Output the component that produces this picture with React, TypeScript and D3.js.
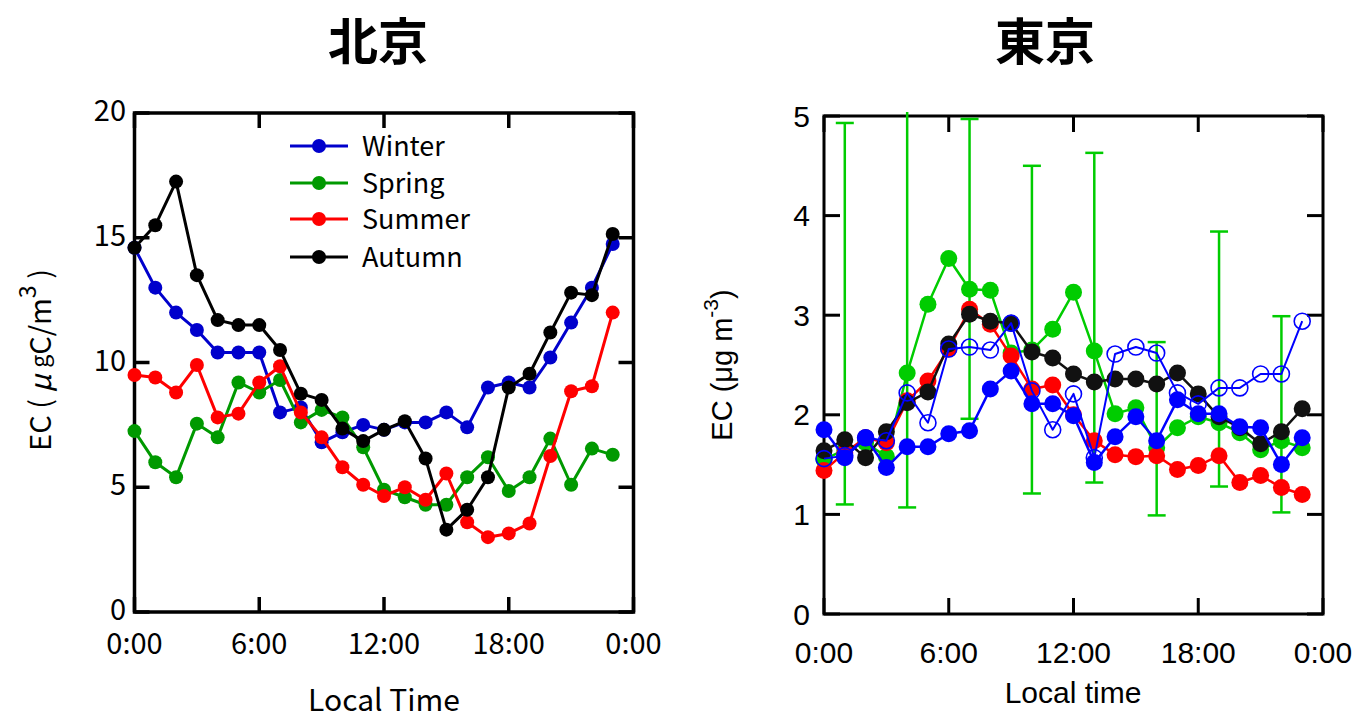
import * as d3 from "d3";

// hours of day (categories)
const hours = [0, 1, 2, 3, 4, 5, 6, 7, 8, 9, 10, 11, 12, 13, 14, 15, 16, 17, 18, 19, 20, 21, 22, 23];
const timeTicks = [0, 6, 12, 18, 24];
const timeLabels = ["0:00", "6:00", "12:00", "18:00", "0:00"];

// 北京 (left)
const bjWinter = [14.6, 13.0, 12.0, 11.3, 10.4, 10.4, 10.4, 8.0, 8.2, 6.8, 7.2, 7.5, 7.3, 7.6, 7.6, 8.0, 7.4, 9.0, 9.2, 9.0, 10.2, 11.6, 13.0, 14.75];
const bjSpring = [7.25, 6.0, 5.4, 7.55, 7.0, 9.2, 8.8, 9.3, 7.6, 8.1, 7.8, 6.6, 4.9, 4.6, 4.3, 4.3, 5.4, 6.2, 4.85, 5.4, 6.95, 5.1, 6.55, 6.3];
const bjSummer = [9.5, 9.4, 8.8, 9.9, 7.8, 7.95, 9.2, 9.85, 8.0, 7.0, 5.8, 5.1, 4.65, 5.0, 4.5, 5.55, 3.6, 3.0, 3.15, 3.55, 6.25, 8.85, 9.05, 12.0];
const bjAutumn = [14.6, 15.5, 17.25, 13.5, 11.7, 11.5, 11.5, 10.5, 8.75, 8.5, 7.35, 6.85, 7.3, 7.65, 6.15, 3.3, 4.1, 5.4, 9.0, 9.55, 11.2, 12.8, 12.7, 15.15];
const bjTicks = [0, 5, 10, 15, 20];
const seasonNames = ["Winter", "Spring", "Summer", "Autumn"];
const seasonColors = ["#0000cc", "#009900", "#ff0000", "#000000"];

// 東京 (right)
const tkGreen = [1.55, 1.65, 1.72, 1.58, 2.42, 3.11, 3.57, 3.26, 3.25, 2.62, 2.65, 2.86, 3.23, 2.64, 2.01, 2.07, 1.67, 1.87, 1.98, 1.92, 1.82, 1.65, 1.74, 1.67];
const tkRed = [1.44, 1.62, 1.77, 1.72, 2.14, 2.34, 2.66, 3.06, 2.91, 2.59, 2.26, 2.3, 2.0, 1.74, 1.6, 1.58, 1.59, 1.45, 1.49, 1.59, 1.32, 1.39, 1.27, 1.2];
const tkBlack = [1.64, 1.75, 1.57, 1.83, 2.12, 2.23, 2.71, 3.01, 2.94, 2.92, 2.63, 2.57, 2.41, 2.33, 2.36, 2.36, 2.31, 2.42, 2.21, 1.98, 1.87, 1.71, 1.83, 2.06];
const tkBlue = [1.85, 1.57, 1.77, 1.47, 1.68, 1.68, 1.81, 1.84, 2.26, 2.44, 2.11, 2.11, 1.99, 1.52, 1.78, 1.98, 1.74, 2.15, 2.01, 2.01, 1.88, 1.87, 1.5, 1.77];
const tkBlueOpen = [1.56, 1.59, 1.77, 1.74, 2.22, 1.92, 2.66, 2.68, 2.65, 2.92, 2.24, 1.85, 2.21, 1.57, 2.61, 2.68, 2.62, 2.22, 2.11, 2.27, 2.27, 2.41, 2.41, 2.94];
const errHours = [1, 4, 7, 10, 13, 16, 19, 22];
const errHi = [4.93, 5.04, 4.97, 4.5, 4.63, 2.73, 3.84, 2.99];
const errLo = [1.1, 1.07, 1.96, 1.21, 1.32, 0.99, 1.28, 1.02];
const tkTicks = [0, 1, 2, 3, 4, 5];

const JP = "'Noto Sans CJK JP', sans-serif";
const AR = "'Liberation Sans', Arial, sans-serif";

const xL = d3.scaleLinear().domain([0, 24]).range([134.5, 633.5]);
const yL = d3.scaleLinear().domain([0, 20]).range([612, 113]);
const xR = d3.scaleLinear().domain([0, 24]).range([824, 1323]);
const yR = d3.scaleLinear().domain([0, 5]).range([614, 116]);

function Frame({ x, y, xt, yt, tick, sw }: any) {
  const [x0, x1] = x.range();
  const [y0, y1] = y.range();
  return (
    <g stroke="#000" strokeWidth={sw} fill="none">
      <rect x={x0} y={y1} width={x1 - x0} height={y0 - y1} />
      {xt.map((t: number, i: number) => (
        <g key={"x" + i}>
          <line x1={x(t)} x2={x(t)} y1={y0} y2={y0 - tick} />
          <line x1={x(t)} x2={x(t)} y1={y1} y2={y1 + tick} />
        </g>
      ))}
      {yt.map((t: number, i: number) => (
        <g key={"y" + i}>
          <line x1={x0} x2={x0 + tick} y1={y(t)} y2={y(t)} />
          <line x1={x1} x2={x1 - tick} y1={y(t)} y2={y(t)} />
        </g>
      ))}
    </g>
  );
}

function Series({ vals, color, x, y, r, sw, open }: any) {
  const line = d3.line<number>().x((_, i) => x(hours[i])).y((d) => y(d));
  return (
    <g>
      <path d={line(vals) ?? ""} fill="none" stroke={color} strokeWidth={sw} strokeLinejoin="round" />
      {vals.map((v: number, i: number) => (
        <circle key={i} cx={x(hours[i])} cy={y(v)} r={r}
          fill={open ? "none" : color} stroke={open ? color : "none"} strokeWidth={open ? 1.6 : 0} />
      ))}
    </g>
  );
}

export default function App() {
  const bj = [bjWinter, bjSpring, bjSummer, bjAutumn];
  const legendY = [146, 183, 219, 257];
  return (
    <div>
      <style>{`body{margin:0}`}</style>
      <svg width={1360} height={719} style={{ display: "block", background: "#fff" }}>
        {/* titles */}
        <text x={378} y={38} textAnchor="middle" dominantBaseline="central" fontFamily={JP} fontWeight={700} fontSize={50}>北京</text>
        <text x={1045} y={38} textAnchor="middle" dominantBaseline="central" fontFamily={JP} fontWeight={700} fontSize={50}>東京</text>

        {/* left panel */}
        <Frame x={xL} y={yL} xt={timeTicks} yt={bjTicks} tick={15} sw={3.5} />
        {bj.map((s, k) => (
          <Series key={k} vals={s} color={seasonColors[k]} x={xL} y={yL} r={7} sw={3} />
        ))}
        <g fontFamily={JP} fontSize={29}>
          {timeTicks.map((t, i) => (
            <text key={i} x={xL(t)} y={641} textAnchor="middle" dominantBaseline="central">{timeLabels[i]}</text>
          ))}
          {bjTicks.map((t) => (
            <text key={t} x={126} y={yL(t) - 5} textAnchor="end" dominantBaseline="central">{t}</text>
          ))}
          {seasonNames.map((n, k) => (
            <g key={n}>
              <line x1={290} x2={348} y1={legendY[k]} y2={legendY[k]} stroke={seasonColors[k]} strokeWidth={3} />
              <circle cx={319} cy={legendY[k]} r={7} fill={seasonColors[k]} />
              <text x={362} y={legendY[k] - 2} dominantBaseline="central" fontSize={27}>{n}</text>
            </g>
          ))}
          <text x={384} y={698} textAnchor="middle" dominantBaseline="central" fontSize={30}>Local Time</text>
          <text transform="translate(38,360) rotate(-90)" textAnchor="middle" dominantBaseline="central" fontSize={29}>
            EC ( <tspan fontStyle="italic">μ</tspan> <tspan fontSize={23}>g</tspan>C/m<tspan dy={-12} fontSize={23}>3</tspan><tspan dy={12}> )</tspan>
          </text>
        </g>

        {/* right panel */}
        <Frame x={xR} y={yR} xt={timeTicks} yt={tkTicks} tick={16} sw={3} />
        <g stroke="#00cc00" strokeWidth={2.5}>
          {errHours.map((h, i) => (
            <g key={h}>
              <line x1={xR(h)} x2={xR(h)} y1={yR(errLo[i])} y2={yR(errHi[i])} />
              <line x1={xR(h) - 9} x2={xR(h) + 9} y1={yR(errLo[i])} y2={yR(errLo[i])} />
              {errHi[i] <= 5 && <line x1={xR(h) - 9} x2={xR(h) + 9} y1={yR(errHi[i])} y2={yR(errHi[i])} />}
            </g>
          ))}
        </g>
        <Series vals={tkGreen} color="#00cc00" x={xR} y={yR} r={8.5} sw={2.5} />
        <Series vals={tkRed} color="#ff0000" x={xR} y={yR} r={8.5} sw={2.5} />
        <Series vals={tkBlack} color="#111111" x={xR} y={yR} r={8.5} sw={2.5} />
        <Series vals={tkBlue} color="#0000ff" x={xR} y={yR} r={8.5} sw={2.5} />
        <Series vals={tkBlueOpen} color="#0000ff" x={xR} y={yR} r={8} sw={2} open />
        <g fontFamily={AR} fontSize={30}>
          {timeTicks.map((t, i) => (
            <text key={i} x={xR(t)} y={652} textAnchor="middle" dominantBaseline="central">{timeLabels[i]}</text>
          ))}
          {tkTicks.map((t) => (
            <text key={t} x={810} y={yR(t)} textAnchor="end" dominantBaseline="central">{t}</text>
          ))}
          <text x={1073} y={692} textAnchor="middle" dominantBaseline="central">Local time</text>
          <text transform="translate(722,365) rotate(-90)" textAnchor="middle" dominantBaseline="central" fontSize={29}>
            EC (μg m<tspan dy={-12} fontSize={21}>-3</tspan><tspan dy={12}>)</tspan>
          </text>
        </g>
      </svg>
    </div>
  );
}
